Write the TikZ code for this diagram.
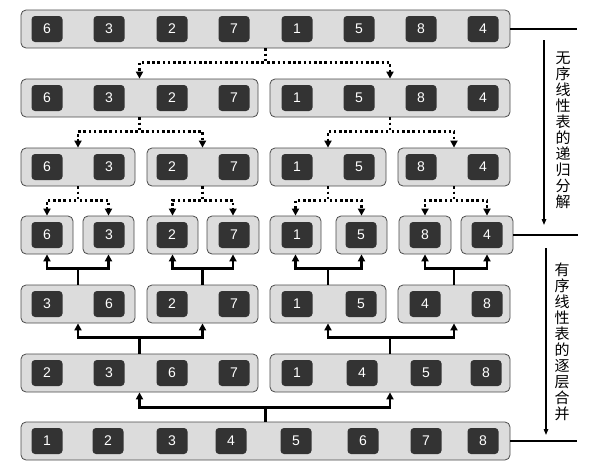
\documentclass[tikz,border=0pt]{standalone}
\usepackage{fontspec}
\setmainfont{Liberation Sans}
\newfontfamily\cjk{Noto Sans CJK SC}
\usetikzlibrary{arrows.meta}
\definecolor{rowfill}{HTML}{DCDCDC}
\definecolor{rowline}{HTML}{4A4A4A}
\definecolor{numfill}{HTML}{333333}
\tikzset{
	rowbox/.style={draw=rowline,fill=rowfill,line width=0.8pt,rounded corners=5pt,minimum height=38pt,inner sep=0pt},
	numbox/.style={fill=numfill,rounded corners=3.5pt,minimum width=31pt,minimum height=26pt,inner sep=0pt,text=white,font=\fontsize{14}{14}\selectfont},
	split/.style={line width=2.6pt,dash pattern=on 2.6pt off 2.6pt,-{Triangle[length=7pt,width=7pt]}},
	merge/.style={line width=2.6pt,-{Triangle[length=7pt,width=7pt]}},
	side/.style={line width=2.6pt},
	flow/.style={line width=1.3pt,-{Triangle[length=6pt,width=4.5pt]}},
	sidetext/.style={font=\cjk\fontsize{15}{16}\selectfont,align=center,inner sep=0pt}
}
\begin{document}
\begin{tikzpicture}[x=1pt,y=-1pt]
			\useasboundingbox (0,0) rectangle (603,474);
			% rows of the split
			\node[rowbox,minimum width=489pt] (r1) at (265.5,29) {};
			\node[rowbox,minimum width=237pt] (r2a) at (139.5,98) {};
			\node[rowbox,minimum width=240pt] (r2b) at (390,98) {};
			\node[rowbox,minimum width=114pt] (r3a) at (78,167) {};
			\node[rowbox,minimum width=111pt] (r3b) at (202.5,167) {};
			\node[rowbox,minimum width=116pt] (r3c) at (328,167) {};
			\node[rowbox,minimum width=112pt] (r3d) at (454,167) {};
			\node[rowbox,minimum width=52pt] (r4a) at (47,235) {};
			\node[rowbox,minimum width=51pt] (r4b) at (108.5,235) {};
			\node[rowbox,minimum width=51pt] (r4c) at (172.5,235) {};
			\node[rowbox,minimum width=52pt] (r4d) at (233,235) {};
			\node[rowbox,minimum width=51pt] (r4e) at (295.5,235) {};
			\node[rowbox,minimum width=51pt] (r4f) at (361.5,235) {};
			\node[rowbox,minimum width=52pt] (r4g) at (425,235) {};
			\node[rowbox,minimum width=52pt] (r4h) at (487,235) {};
			% rows of the merge
			\node[rowbox,minimum width=114pt] (r5a) at (78,304) {};
			\node[rowbox,minimum width=111pt] (r5b) at (202.5,304) {};
			\node[rowbox,minimum width=116pt] (r5c) at (328,304) {};
			\node[rowbox,minimum width=112pt] (r5d) at (454,304) {};
			\node[rowbox,minimum width=237pt] (r6a) at (139.5,373) {};
			\node[rowbox,minimum width=240pt] (r6b) at (390,373) {};
			\node[rowbox,minimum width=489pt] (r7) at (265.5,441) {};
			
			% numbers
			\foreach \x/\v [count=\i] in {47/6,109/3,172/2,234/7,297/1,359/5,421/8,483/4}
				\node[numbox] (n1-\i) at (\x,29) {\v};
			\foreach \x/\v [count=\i] in {47/6,109/3,172/2,234/7,297/1,359/5,421/8,483/4}
				\node[numbox] (n2-\i) at (\x,98) {\v};
			\foreach \x/\v [count=\i] in {47/6,109/3,172/2,234/7,297/1,359/5,421/8,483/4}
				\node[numbox] (n3-\i) at (\x,167) {\v};
			\foreach \x/\v [count=\i] in {47/6,109/3,172/2,234/7,297/1,361/5,425/8,487/4}
				\node[numbox] (n4-\i) at (\x,235) {\v};
			\foreach \x/\v [count=\i] in {47/3,109/6,172/2,234/7,297/1,361/5,425/4,487/8}
				\node[numbox] (n5-\i) at (\x,304) {\v};
			\foreach \x/\v [count=\i] in {47/2,109/3,172/6,234/7,297/1,362/4,426/5,486/8}
				\node[numbox] (n6-\i) at (\x,373) {\v};
			\foreach \x/\v [count=\i] in {47/1,108/2,172/3,231/4,296/5,363/6,426/7,483/8}
				\node[numbox] (n7-\i) at (\x,441) {\v};
			
			% split connectors
			\foreach \a/\b/\c in {r1/r2a/r2b,r2a/r3a/r3b,r2b/r3c/r3d,r3a/r4a/r4b,r3b/r4c/r4d,r3c/r4e/r4f,r3d/r4g/r4h}{
				\draw[split] (\a.south) -- ++(0,14) -| (\b.north);
				\draw[split] (\a.south) -- ++(0,14) -| (\c.north);
			}
			% merge connectors
			\foreach \a/\b/\c in {r5a/r4a/r4b,r5b/r4c/r4d,r5c/r4e/r4f,r5d/r4g/r4h,r6a/r5a/r5b,r6b/r5c/r5d}{
				\draw[merge] (\a.north) -- ++(0,-16) -| (\b.south);
				\draw[merge] (\a.north) -- ++(0,-16) -| (\c.south);
			}
			\draw[merge] (r7.north) -- ++(0,-14) -| (r6a.south);
			\draw[merge] (r7.north) -- ++(0,-14) -| (r6b.south);
			
			% side marks
			\coordinate (e1) at (577,29);
			\coordinate (e4) at (578,235);
			\coordinate (e7) at (577,441);
			\draw[side] (r1.east) -- (e1);
			\draw[side] (r4h.east) -- (e4);
			\draw[side] (r7.east) -- (e7);
			\coordinate (s1) at (544,40);
			\coordinate (t1) at (544,225);
			\coordinate (s2) at (546,248);
			\coordinate (t2) at (546,435);
			\draw[flow] (s1) -- (t1);
			\draw[flow] (s2) -- (t2);
			\node[sidetext] (lab1) at (563,130) {无\\序\\线\\性\\表\\的\\递\\归\\分\\解};
			\node[sidetext] (lab2) at (562,342) {有\\序\\线\\性\\表\\的\\逐\\层\\合\\并};
		\end{tikzpicture}
\end{document}
